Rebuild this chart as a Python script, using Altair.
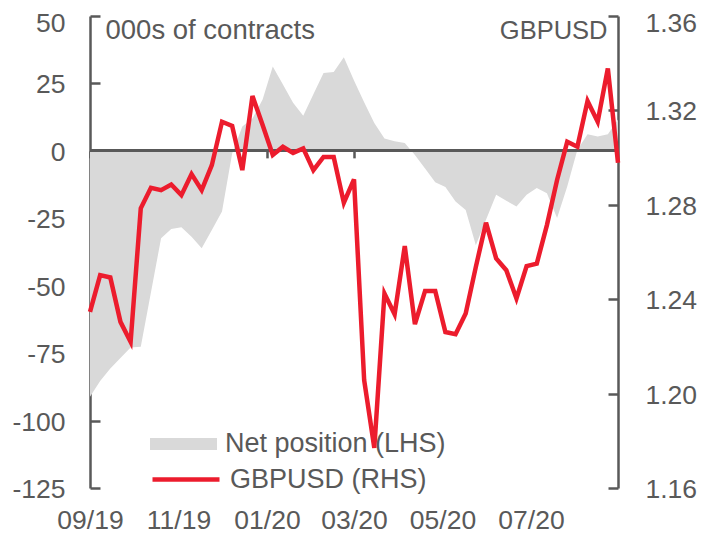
import altair as alt
import pandas as pd

# weekly observations
dates = pd.date_range("2019-09-01", periods=53, freq="7D").strftime("%Y-%m-%dT00:00:00").tolist()

net_position = [-91.2, -85.3, -80.7, -76.8, -72.9, -72.6, -52.5, -32.4, -29.0, -28.3,
                -31.8, -36.1, -29.3, -22.5, -1.0, 9.0, 12.0, 19.0, 31.3, 24.6,
                17.8, 13.0, 21.0, 28.9, 29.2, 34.7, 26.1, 18.0, 10.3, 4.6,
                3.6, 2.9, -1.5, -6.5, -11.6, -13.4, -18.8, -21.9, -35.0, -25.5,
                -16.3, -18.5, -20.6, -16.3, -13.8, -15.7, -24.9, -13.2, 0.4, 6.2,
                5.3, 6.2, 11.6]

gbpusd = [1.2346, 1.2502, 1.2492, 1.2304, 1.2219, 1.2785, 1.2872, 1.2862, 1.2886, 1.2841,
          1.2930, 1.2862, 1.2968, 1.3152, 1.3134, 1.2947, 1.3261, 1.3138, 1.3011, 1.3046,
          1.3020, 1.3039, 1.2947, 1.3003, 1.3003, 1.2809, 1.2908, 1.2057, 1.1770, 1.2424,
          1.2336, 1.2625, 1.2294, 1.2435, 1.2435, 1.2261, 1.2252, 1.2339, 1.2537, 1.2724,
          1.2573, 1.2523, 1.2403, 1.2540, 1.2551, 1.2714, 1.2905, 1.3067, 1.3046, 1.3240,
          1.3152, 1.3378, 1.2978]

x_tick_months = [(2019, 9), (2019, 11), (2020, 1), (2020, 3), (2020, 5), (2020, 7)]
lhs_ticks = [-125, -100, -75, -50, -25, 0, 25, 50]
rhs_ticks = [1.16, 1.20, 1.24, 1.28, 1.32, 1.36]

GREY = "#595959"
RED = "#EC1C2D"
FILL = "#D9D9D9"
FONT = "Liberation Sans"
FS = 26.5

df = pd.DataFrame({
    "date": dates,
    "net": net_position,
    "fx": gbpusd,
    "s1": "Net position (LHS)",
    "s2": "GBPUSD (RHS)",
})

W, H = 528, 472

x_enc = alt.X(
    "date:T",
    scale=alt.Scale(domain=[alt.DateTime(year=2019, month=9, date=1),
                            alt.DateTime(year=2020, month=8, date=30)], nice=False),
    axis=alt.Axis(
        values=[alt.DateTime(year=y, month=m, date=1) for y, m in x_tick_months],
        format="%m/%y", domain=False, grid=False,
        tickSize=7, tickWidth=2.5, tickColor=GREY,
        offset=-(H * 125 / 175), labelPadding=350, labelFlush=False,
        labelBaseline="top", labelFontSize=FS, labelColor=GREY, labelFont=FONT,
        title=None,
    ),
)

base = alt.Chart(df)

area = base.mark_area(color=FILL, opacity=1).encode(
    x=x_enc,
    y=alt.Y(
        "net:Q",
        scale=alt.Scale(domain=[-125, 50], nice=False, zero=False),
        axis=alt.Axis(
            orient="right", offset=-W, values=lhs_ticks, grid=False,
            domainColor=GREY, domainWidth=2.5, tickColor=GREY, tickWidth=2.5, tickSize=10,
            labelAlign="right", labelPadding=-35, labelFontSize=FS, labelColor=GREY,
            labelFont=FONT, labelBaseline="middle",
            labelOffset={"condition": {"test": "datum.value >= 50", "value": 7}, "value": 1.5},
            labelExpr="replace(datum.label, '\u2212', '-')",
            title="000s of contracts", titleAngle=0, titleX=15, titleY=14,
            titleAlign="left", titleBaseline="middle", titleFontSize=27.5,
            titleFontWeight="normal", titleColor=GREY, titleFont=FONT,
        ),
    ),
    y2=alt.datum(0),
    fill=alt.Fill(
        "s1:N",
        scale=alt.Scale(range=[FILL]),
        legend=alt.Legend(
            orient="none", legendX=60, legendY=394.5, title=None, padding=0,
            symbolType="M-1,-0.18L1,-0.18L1,0.18L-1,0.18Z", symbolSize=4489,
            symbolStrokeWidth=0, symbolOpacity=1, labelOffset=8, labelLimit=0,
            labelFontSize=27, labelColor=GREY, labelFont=FONT,
        ),
    ),
)

zero_rule = base.mark_rule(color=GREY, strokeWidth=2.5).encode(y=alt.datum(0))

line = base.mark_line(color=RED, strokeWidth=4.5).encode(
    x=x_enc,
    y=alt.Y(
        "fx:Q",
        scale=alt.Scale(domain=[1.16, 1.36], nice=False, zero=False),
        axis=alt.Axis(
            orient="left", offset=-W, values=rhs_ticks, format=".2f", grid=False,
            domainColor=GREY, domainWidth=2.5, tickColor=GREY, tickWidth=2.5, tickSize=10,
            labelAlign="left", labelPadding=-37, labelFontSize=FS, labelColor=GREY,
            labelFont=FONT, labelBaseline="middle",
            labelOffset={"condition": {"test": "datum.value > 1.35", "value": 7}, "value": 1.5},
            title="GBPUSD", titleAngle=0, titleX=-11, titleY=14,
            titleAlign="right", titleBaseline="middle", titleFontSize=25.5,
            titleFontWeight="normal", titleColor=GREY, titleFont=FONT,
        ),
    ),
    stroke=alt.Stroke(
        "s2:N",
        scale=alt.Scale(range=[RED]),
        legend=alt.Legend(
            orient="none", legendX=60, legendY=427.5, title=None, padding=0,
            symbolType="stroke", symbolSize=4489, symbolStrokeWidth=4.5,
            labelOffset=8, labelLimit=0, labelFontSize=27, labelColor=GREY, labelFont=FONT,
        ),
    ),
)

chart = alt.layer(alt.layer(area, zero_rule), line).resolve_scale(
    y="independent"
).properties(
    width=W, height=H,
    padding={"left": 82, "top": 8, "right": 80, "bottom": 48},
    autosize=alt.AutoSizeParams(type="none"),
).configure_view(stroke=None)

chart.save("out.html", embed_options={"renderer": "svg", "actions": False})
